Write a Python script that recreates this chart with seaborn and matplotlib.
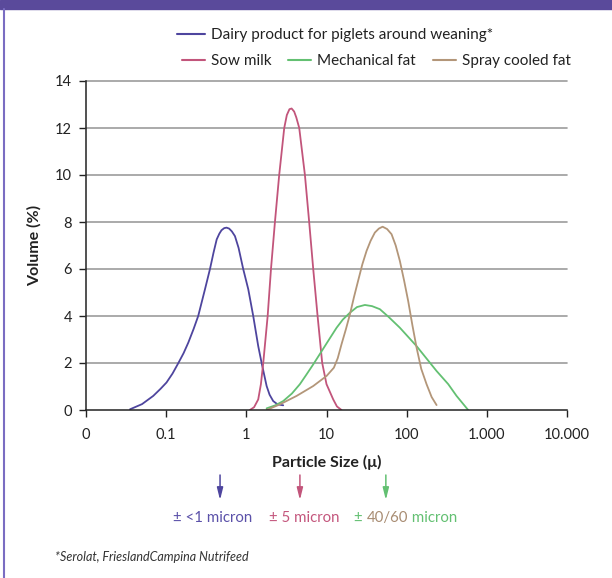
import matplotlib
matplotlib.use("Agg")
import matplotlib.pyplot as plt
from matplotlib.lines import Line2D
from matplotlib.patches import Rectangle
import matplotlib.ticker as mticker
import seaborn as sns
import pandas as pd

# Particle size distributions (size in micron, volume in %)
dairy_x = [0.0354, 0.05, 0.069, 0.085, 0.101, 0.12, 0.142, 0.165, 0.189, 0.22, 0.251,
           0.305, 0.352, 0.39, 0.427, 0.46, 0.49, 0.53, 0.567, 0.61, 0.66, 0.721, 0.8,
           0.914, 1.057, 1.219, 1.407, 1.552, 1.791, 1.95, 2.164, 2.45, 2.884]
dairy_y = [0.03, 0.25, 0.6, 0.9, 1.17, 1.55, 2.0, 2.42, 2.87, 3.45, 4.0,
           5.14, 6.0, 6.7, 7.26, 7.5, 7.65, 7.74, 7.76, 7.72, 7.6, 7.4, 6.9,
           6.0, 5.14, 4.0, 2.72, 2.0, 1.02, 0.65, 0.38, 0.24, 0.2]

sow_x = [1.109, 1.25, 1.407, 1.52, 1.625, 1.845, 2.03, 2.274, 2.57, 2.97, 3.2, 3.45,
         3.672, 3.95, 4.2, 4.57, 5.38, 6.08, 6.83, 7.74, 8.84, 10.0, 12.13, 13.5, 15.4]
sow_y = [0.0, 0.12, 0.45, 1.1, 2.0, 4.0, 6.0, 8.0, 10.0, 12.0, 12.55, 12.8,
         12.83, 12.7, 12.45, 12.0, 10.0, 8.0, 6.0, 4.0, 2.0, 1.1, 0.45, 0.15, 0.0]

mech_x = [1.791, 2.3, 2.884, 3.7, 4.66, 5.6, 6.83, 8.69, 11.0, 13.36, 16.0, 19.6,
          24.0, 30.1, 37.0, 46.3, 60.0, 82.3, 132.8, 236, 330, 419, 585]
mech_y = [0.07, 0.2, 0.38, 0.7, 1.1, 1.5, 1.94, 2.5, 3.05, 3.5, 3.85, 4.14,
          4.38, 4.47, 4.42, 4.29, 3.95, 3.5, 2.72, 1.66, 1.1, 0.6, 0.0]

spray_x = [1.791, 2.624, 4.24, 6.83, 10.03, 12.36, 13.8, 15.4, 17.5, 19.6, 22.0,
           24.8, 28.0, 31.6, 35.5, 40.1, 45.0, 50.1, 57.0, 64.8, 73.0, 82.3, 93.0,
           104.4, 118.0, 132.8, 152.0, 177.0, 205.0, 236.0]
spray_y = [0.0, 0.24, 0.6, 1.02, 1.45, 1.8, 2.2, 2.8, 3.45, 4.07, 4.8,
           5.5, 6.2, 6.77, 7.2, 7.55, 7.72, 7.8, 7.7, 7.48, 7.0, 6.34, 5.5,
           4.64, 3.6, 2.66, 1.75, 1.1, 0.55, 0.21]

series_names = ["Dairy product for piglets around weaning*", "Sow milk",
                "Mechanical fat", "Spray cooled fat"]
series_colors = ["#4E459E", "#C2557B", "#63C072", "#B39679"]

x_ticks = [0.01, 0.1, 1, 10, 100, 1000, 10000]
x_tick_labels = ["0", "0.1", "1", "10", "100", "1.000", "10.000"]
y_ticks = [0, 2, 4, 6, 8, 10, 12, 14]

# Arrow markers under the axis and their captions
marker_x = [0.47, 4.66, 55]
marker_colors = ["#4E459E", "#C2557B", "#63C072"]

sns.set_theme(style="white")
plt.rcParams["font.family"] = ["Lato", "DejaVu Sans"]

W, H = 612, 578
fig = plt.figure(figsize=(W / 100, H / 100), dpi=100)
ax = fig.add_axes([86 / W, 1 - 410 / H, (567 - 86) / W, (410 - 81) / H])

frames = []
for name, xs, ys in zip(series_names, [dairy_x, sow_x, mech_x, spray_x],
                        [dairy_y, sow_y, mech_y, spray_y]):
    frames.append(pd.DataFrame({"size": xs, "volume": ys, "series": name}))
df = pd.concat(frames, ignore_index=True)

sns.lineplot(data=df, x="size", y="volume", hue="series", hue_order=series_names,
             palette=series_colors, sort=False, estimator=None, linewidth=1.3,
             legend=False, ax=ax, zorder=3)
for ln in ax.get_lines():
    ln.set_solid_joinstyle("round")
    ln.set_solid_capstyle("round")

ax.set_xscale("log")
ax.set_xlim(0.01, 10000)
ax.set_ylim(0, 14)
ax.xaxis.set_major_locator(mticker.FixedLocator(x_ticks))
ax.xaxis.set_minor_locator(mticker.NullLocator())
ax.set_xticklabels(x_tick_labels)
ax.set_yticks(y_ticks)

for yv in y_ticks[1:]:
    ax.axhline(yv, color="#9c9c9c", linewidth=1.2, zorder=1, clip_on=False)

for side in ["top", "right"]:
    ax.spines[side].set_visible(False)
for side in ["left", "bottom"]:
    ax.spines[side].set_color("#222222")
    ax.spines[side].set_linewidth(1.1)
ax.spines["bottom"].set_zorder(4)

ax.tick_params(axis="both", which="major", direction="out", length=5, width=1,
               color="#222222", labelsize=10.5, labelcolor="#222222", left=True, bottom=True)
ax.tick_params(axis="y", pad=5)
ax.tick_params(axis="x", pad=8)

ax.set_xlabel("Particle Size (\u03bc)", fontsize=11.5, fontweight="bold",
              color="#222222", labelpad=9)
ax.set_ylabel("Volume (%)", fontsize=11.5, fontweight="bold", color="#222222", labelpad=10)

# Legend: first series on its own row, the other three beside each other
h_first = [Line2D([], [], color=series_colors[0], linewidth=1.5)]
leg1 = fig.legend(h_first, series_names[:1], loc="center left",
                  bbox_to_anchor=(177 / W, 1 - 35 / H), frameon=False, fontsize=11,
                  handlelength=1.8, handletextpad=0.4, borderpad=0, borderaxespad=0)
h_rest = [Line2D([], [], color=c, linewidth=1.5) for c in series_colors[1:]]
leg2 = fig.legend(h_rest, series_names[1:], loc="center left", ncol=3,
                  bbox_to_anchor=(182 / W, 1 - 61 / H), frameon=False, fontsize=11,
                  handlelength=1.5, handletextpad=0.4, columnspacing=1.1,
                  borderpad=0, borderaxespad=0)
for lg in (leg1, leg2):
    for t in lg.get_texts():
        t.set_color("#222222")

# Arrows pointing at the typical particle sizes
for xv, c in zip(marker_x, marker_colors):
    ax.annotate("", xy=(xv, 1 - 500 / H), xytext=(xv, 1 - 475 / H),
                xycoords=("data", "figure fraction"), textcoords=("data", "figure fraction"),
                arrowprops=dict(arrowstyle="-|>,head_length=0.6,head_width=0.15",
                                color=c, lw=1.1, shrinkA=0, shrinkB=0),
                annotation_clip=False)

ty = 1 - 518 / H
fig.text(173 / W, ty, "\u00b1 <1 micron", color="#5B51A9", fontsize=10.8, va="center")
fig.text(269 / W, ty, "\u00b1 5 micron", color="#C4577D", fontsize=10.8, va="center")
t1 = fig.text(354 / W, ty, "\u00b1 ", color="#63C072", fontsize=10.8, va="center")
t2 = ax.annotate("40/60", xy=(1, 0), xycoords=t1, va="bottom", ha="left",
                 color="#A88C72", fontsize=10.8)
ax.annotate(" micron", xy=(1, 0), xycoords=t2, va="bottom", ha="left",
            color="#63C072", fontsize=10.8)

fig.text(55 / W, 1 - 557 / H, "*Serolat, FrieslandCampina Nutrifeed", fontsize=9,
         style="italic", color="#333333", va="center")

# Page decoration: header band and left rule
fig.patches.append(Rectangle((0, 1 - 9 / H), 1, 9 / H, transform=fig.transFigure,
                             color="#5A4A9B", zorder=0))
fig.add_artist(Line2D([4 / W, 4 / W], [0, 1 - 9 / H], transform=fig.transFigure,
                      color="#7A6DC2", linewidth=1.5))

fig.savefig("out.png", dpi=100)
